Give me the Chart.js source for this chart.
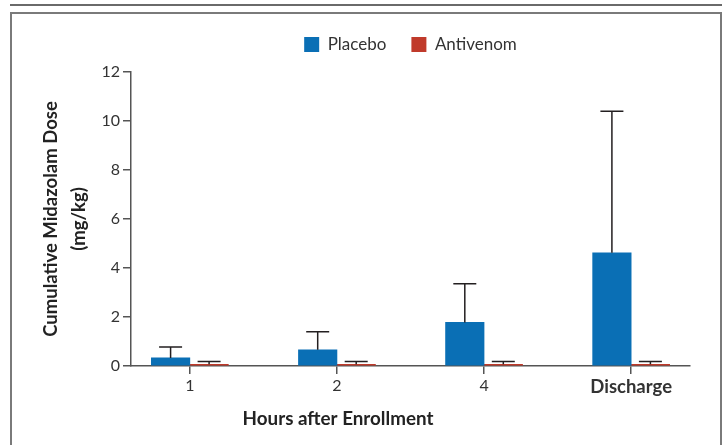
<!DOCTYPE html>
<html>
<head>
<meta charset="utf-8">
<script src="https://cdn.jsdelivr.net/npm/chart.js@4.4.1/dist/chart.umd.min.js"></script>
<style>
	html, body { margin: 0; padding: 0; background: #fff; }
	#wrap { position: relative; width: 723px; height: 445px; overflow: hidden; }
	.top-line { position: absolute; left: 10px; top: 4px; width: 712px; height: 2px; background: #6a6a6a; }
	.frame { position: absolute; left: 10px; top: 12px; width: 708px; height: 460px; border: 2px solid #7a7a7a; border-bottom: none; }
	#chart { position: absolute; left: 0; top: 0; }
</style>
</head>
<body>
<div id="wrap">
	<div class="top-line"></div>
	<div class="frame"></div>
	<canvas id="chart" width="723" height="445"></canvas>
</div>
<script>
	var categories = ['1', '2', '4', 'Discharge'];
	var placebo = [0.33, 0.66, 1.78, 4.62];
	var placeboUpper = [0.78, 1.40, 3.36, 10.4];   // top of error bar
	var antivenom = [0.07, 0.07, 0.07, 0.07];
	var antivenomUpper = [0.18, 0.18, 0.18, 0.18];
	var yTicks = [0, 2, 4, 6, 8, 10, 12];
	var xTitle = 'Hours after Enrollment';

	var FONT = 'Lato, "Open Sans", sans-serif';
	var upper = [placeboUpper, antivenomUpper];

	function points(values) {
		return values.map(function (v, i) { return {x: i, y: v}; });
	}

	//误差线
	var errorBars = {
		id: 'errorBars',
		afterDatasetsDraw: function (chart) {
			var ctx = chart.ctx;
			var yScale = chart.scales.y;
			ctx.save();
			ctx.strokeStyle = '#231f20';
			ctx.lineWidth = 1.5;
			chart.data.datasets.forEach(function (ds, d) {
				var meta = chart.getDatasetMeta(d);
				meta.data.forEach(function (bar, i) {
					var yTop = yScale.getPixelForValue(upper[d][i]);
					ctx.beginPath();
					ctx.moveTo(bar.x, bar.y);
					ctx.lineTo(bar.x, yTop);
					ctx.moveTo(bar.x - 11.5, yTop);
					ctx.lineTo(bar.x + 11.5, yTop);
					ctx.stroke();
				});
			});
			ctx.restore();
		}
	};

	//x轴标题（原图不在绘图区正中）
	var xAxisTitle = {
		id: 'xAxisTitle',
		afterDraw: function (chart) {
			var ctx = chart.ctx;
			ctx.save();
			ctx.font = 'bold 18.8px ' + FONT;
			ctx.fillStyle = '#222';
			ctx.textAlign = 'center';
			ctx.textBaseline = 'middle';
			ctx.fillText(xTitle, 338, 419);
			ctx.restore();
		}
	};

	//图例下方留空
	var legendGap = {
		id: 'legendGap',
		afterInit: function (chart) {
			var legend = chart.legend;
			if (!legend) return;
			var fit = legend.fit;
			legend.fit = function () {
				fit.call(this);
				this.height += 9;
			};
		}
	};

	var chart = new Chart(document.getElementById('chart'), {
		type: 'bar',
		data: {
			datasets: [
				{ label: 'Placebo', data: points(placebo), backgroundColor: '#0a6fb5', borderWidth: 0 },
				{ label: 'Antivenom', data: points(antivenom), backgroundColor: '#c03a2b', borderWidth: 0 }
			]
		},
		options: {
			responsive: false,
			animation: false,
			layout: { padding: { left: 0, right: 33, top: 11, bottom: 0 } },
			datasets: { bar: { barThickness: 38.5 } },
			plugins: {
				legend: {
					fullSize: false,
					labels: {
						boxWidth: 15,
						boxHeight: 15,
						padding: 25,
						color: '#333',
						font: { family: FONT, size: 17 }
					}
				},
				tooltip: { enabled: false }
			},
			scales: {
				x: {
					type: 'linear',
					min: -0.4,
					max: 3.4,
					offset: false,
					afterBuildTicks: function (scale) {
						scale.ticks = categories.map(function (c, i) { return {value: i}; });
					},
					afterFit: function (scale) { scale.height = 79; },
					border: { display: true, color: '#555', width: 1.5 },
					grid: { display: true, offset: false, drawOnChartArea: false, drawTicks: true, tickLength: 8, color: '#555', lineWidth: 1.5 },
					ticks: {
						padding: 2,
						color: '#333',
						callback: function (v) { return categories[v]; },
						font: function (c) {
							if (c.tick && c.tick.value === 3) return { family: FONT, size: 18.5, weight: 'bold' };
							return { family: FONT, size: 16 };
						}
					}
				},
				y: {
					min: 0,
					max: 12,
					afterBuildTicks: function (scale) {
						scale.ticks = yTicks.map(function (v) { return {value: v}; });
					},
					afterFit: function (scale) { scale.width = 131; },
					border: { display: true, color: '#555', width: 1.5 },
					grid: { display: true, drawOnChartArea: false, drawTicks: true, tickLength: 8, color: '#555', lineWidth: 1.5 },
					ticks: { padding: 3, color: '#333', font: { family: FONT, size: 16 } },
					title: {
						display: true,
						text: ['Cumulative Midazolam Dose', '(mg/kg)'],
						color: '#222',
						font: { family: FONT, size: 18.5, weight: 'bold', lineHeight: 1.5 },
						padding: { top: 37, bottom: 0 }
					}
				}
			}
		},
		plugins: [errorBars, xAxisTitle, legendGap]
	});
</script>
</body>
</html>
